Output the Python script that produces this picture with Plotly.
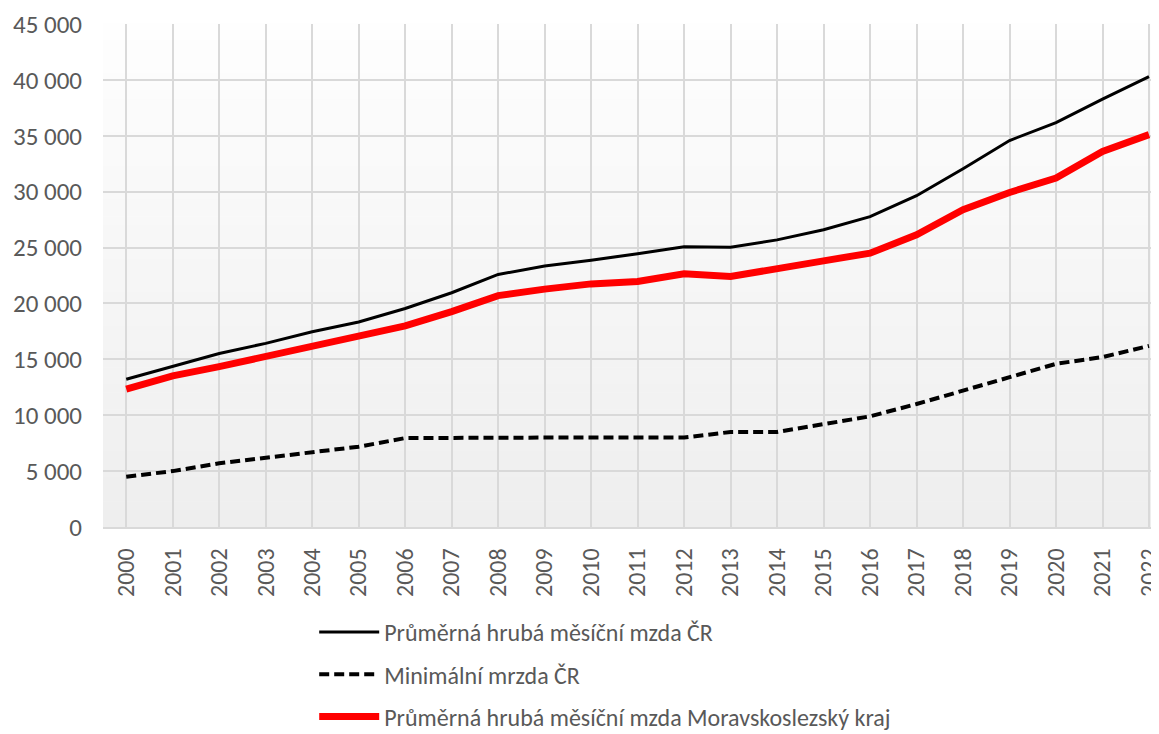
import plotly.graph_objects as go

years = [str(y) for y in range(2000, 2023)]
avg_cr = [13219, 14378, 15524, 16430, 17466, 18344, 19546, 20957, 22592, 23344, 23864, 24455,
          25067, 25035, 25686, 26591, 27764, 29638, 32051, 34578, 36176, 38277, 40300]
min_cr = [4500, 5000, 5700, 6200, 6700, 7185, 7955, 8000, 8000, 8000, 8000, 8000,
          8000, 8500, 8500, 9200, 9900, 11000, 12200, 13350, 14600, 15200, 16200]
msk = [12330, 13520, 14350, 15250, 16200, 16980, 17990, 19270, 20700, 21280, 21750, 21960,
       22650, 22410, 23160, 23810, 24500, 26140, 28380, 29930, 31220, 33600, 35100]

names = ["Průměrná hrubá měsíční mzda ČR", "Minimální mrzda ČR",
         "Průměrná hrubá měsíční mzda Moravskoslezský kraj"]

FONT = "Carlito, Calibri, Open Sans, sans-serif"
GREY = "#595959"

fig = go.Figure()
fig.add_trace(go.Scatter(x=years, y=avg_cr, name=names[0], mode="lines",
                         line=dict(color="black", width=3), legendgroup="a"))
fig.add_trace(go.Scatter(x=years, y=min_cr, name=names[1], mode="lines",
                         line=dict(color="black", width=4, dash="10px,5px"), legendgroup="b"))
fig.add_trace(go.Scatter(x=years, y=msk, name=names[2], mode="lines",
                         line=dict(color="#ff0000", width=7), legendgroup="c"))

n = 60
top = (254, 254, 254)
bot = (238, 238, 238)
shapes = []
for i in range(n):
    t = (i + 0.5) / n
    c = tuple(round(top[k] + (bot[k] - top[k]) * t) for k in range(3))
    shapes.append(dict(type="rect", xref="x domain", yref="y domain",
                       x0=0, x1=1, y0=1 - (i + 1) / n, y1=1 - i / n + 0.001,
                       fillcolor="rgb(%d,%d,%d)" % c, line=dict(width=0), layer="below"))

fig.update_layout(
    width=1159, height=734,
    margin=dict(l=95, r=8, t=16, b=215),
    paper_bgcolor="white", plot_bgcolor="white",
    font=dict(family=FONT, size=24, color=GREY),
    separators=", ",
    shapes=shapes,
    showlegend=True,
    legend=dict(x=0.2, y=0.18, xref="paper", yref="container",
                xanchor="left", yanchor="top",
                font=dict(family=FONT, size=24, color=GREY),
                tracegroupgap=8, bgcolor="rgba(0,0,0,0)", itemwidth=60),
    xaxis=dict(type="category", range=[-0.5, 22.215], tickangle=-90, automargin=False,
               showgrid=True, gridcolor="#d9d9d9", gridwidth=1.5,
               showline=True, linecolor="#d9d9d9", linewidth=1.5,
               tickfont=dict(family=FONT, size=24, color=GREY),
               ticks="", ticklabelstandoff=10),
    yaxis=dict(range=[0, 45000], dtick=5000, tickformat=",d", automargin=False,
               showgrid=True, gridcolor="#d9d9d9", gridwidth=1.5,
               tickfont=dict(family=FONT, size=25, color=GREY),
               zeroline=False, showline=False, ticks="", ticklabelstandoff=20),
)

fig.write_html("out.html")
